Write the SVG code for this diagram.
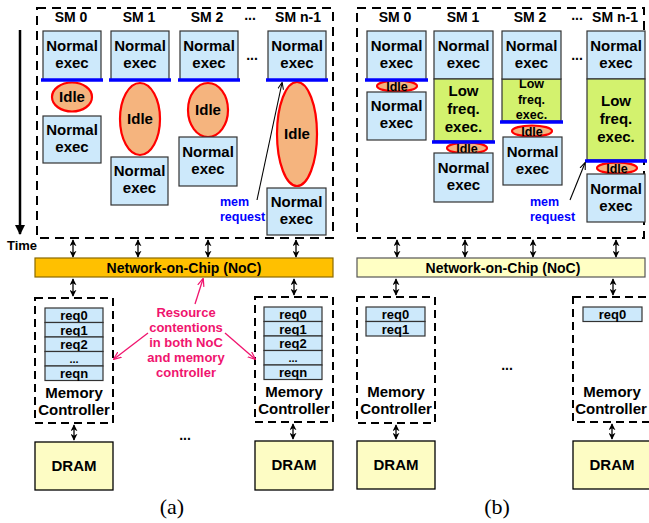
<svg xmlns="http://www.w3.org/2000/svg" width="649" height="523" viewBox="0 0 649 523">
<defs>
<style>
text{font-family:"Liberation Sans",Arial,sans-serif;font-weight:bold;text-anchor:middle;fill:#000}
.t15{font-size:15px}.t14{font-size:14px}.t13{font-size:13px}.t12{font-size:12.5px}.t11{font-size:11px}
.ne{fill:#cde9fb;stroke:#333;stroke-width:1.2}
.lf{fill:#d3f26e;stroke:#333;stroke-width:1.2}
.idle{fill:#f5b47e;stroke:#ff0000;stroke-width:2.2}
.bl{stroke:#0000ff;stroke-width:3.5}
.dash{fill:none;stroke:#000;stroke-width:2;stroke-dasharray:9 6}
.dashm{fill:none;stroke:#000;stroke-width:2;stroke-dasharray:8 5}
.req{fill:#cde9fb;stroke:#333;stroke-width:1.2}
.dram{fill:#fdfcc4;stroke:#000;stroke-width:1.3}
.da{stroke:#000;stroke-width:1.3;marker-start:url(#ah);marker-end:url(#ah)}
.blue{fill:#0000ff;font-size:12.5px;text-anchor:start}
.pink{fill:#f0146e;font-size:13px}
.pl{stroke:#f0146e;stroke-width:1.3;fill:none;marker-end:url(#ap)}
.cap{font-family:"Liberation Serif","Times New Roman",serif;font-weight:normal;font-size:22px}
</style>
<marker id="ah" viewBox="0 0 10 10" refX="9" refY="5" markerWidth="7" markerHeight="7" orient="auto-start-reverse" markerUnits="userSpaceOnUse"><path d="M0,0 L10,5 L0,10 L3,5 z" fill="#000"/></marker>
<marker id="at" viewBox="0 0 10 10" refX="9" refY="5" markerWidth="10" markerHeight="10" orient="auto" markerUnits="userSpaceOnUse"><path d="M0,0 L10,5 L0,10 z" fill="#000"/></marker>
<marker id="am" viewBox="0 0 10 10" refX="9" refY="5" markerWidth="7" markerHeight="7" orient="auto" markerUnits="userSpaceOnUse"><path d="M0,1 L10,5 L0,9" fill="none" stroke="#000" stroke-width="1.5"/></marker>
<marker id="ap" viewBox="0 0 10 10" refX="9" refY="5" markerWidth="8" markerHeight="8" orient="auto" markerUnits="userSpaceOnUse"><path d="M0,1 L10,5 L0,9" fill="none" stroke="#f0146e" stroke-width="1.5"/></marker>
</defs>
<rect width="649" height="523" fill="#fff"/>

<!-- ===== Panel (a) ===== -->
<g id="a-frame">
<rect class="dash" x="37" y="8" width="296" height="230"/>
<line x1="20" y1="30" x2="20" y2="234" stroke="#000" stroke-width="2.5" marker-end="url(#at)"/>
<text class="t13" x="22" y="250">Time</text>
<text class="t14" x="71" y="22">SM 0</text>
<text class="t14" x="139" y="22">SM 1</text>
<text class="t14" x="207" y="22">SM 2</text>
<text class="t14" x="250" y="20">...</text>
<text class="t14" x="298" y="22">SM n-1</text>
<text class="t14" x="252" y="60">...</text>
</g>
<g id="a-sm0">
<rect class="ne" x="43" y="31" width="58" height="49"/>
<text class="t15" x="72" y="51">Normal</text><text class="t15" x="72" y="68">exec</text>
<ellipse class="idle" cx="72" cy="97" rx="20" ry="14.5"/><text class="t15" x="72" y="102">Idle</text>
<rect class="ne" x="43" y="116" width="58" height="47"/>
<text class="t15" x="72" y="135">Normal</text><text class="t15" x="72" y="152">exec</text>
<line class="bl" x1="41" y1="80" x2="103" y2="80"/>
</g>
<g id="a-sm1">
<rect class="ne" x="111" y="31" width="58" height="49"/>
<text class="t15" x="140" y="51">Normal</text><text class="t15" x="140" y="68">exec</text>
<ellipse class="idle" cx="140" cy="119" rx="20" ry="36"/><text class="t15" x="140" y="124">Idle</text>
<rect class="ne" x="111" y="157" width="57" height="48"/>
<text class="t15" x="139.5" y="176">Normal</text><text class="t15" x="139.5" y="193">exec</text>
<line class="bl" x1="109" y1="80" x2="171" y2="80"/>
</g>
<g id="a-sm2">
<rect class="ne" x="180" y="31" width="58" height="49"/>
<text class="t15" x="209" y="51">Normal</text><text class="t15" x="209" y="68">exec</text>
<ellipse class="idle" cx="208" cy="110" rx="20" ry="27"/><text class="t15" x="208" y="115">Idle</text>
<rect class="ne" x="179" y="137" width="58" height="49"/>
<text class="t15" x="208" y="157">Normal</text><text class="t15" x="208" y="174">exec</text>
<line class="bl" x1="178" y1="80" x2="240" y2="80"/>
</g>
<g id="a-smn">
<rect class="ne" x="268" y="31" width="58" height="49"/>
<text class="t15" x="297" y="51">Normal</text><text class="t15" x="297" y="68">exec</text>
<ellipse class="idle" cx="297" cy="134" rx="20" ry="52"/><text class="t15" x="297" y="139">Idle</text>
<rect class="ne" x="267" y="188" width="59" height="47"/>
<text class="t15" x="296.5" y="207">Normal</text><text class="t15" x="296.5" y="224">exec</text>
<line class="bl" x1="266" y1="80" x2="328" y2="80"/>
<text class="blue" x="220" y="206">mem</text><text class="blue" x="220" y="221">request</text>
</g>
<g id="a-noc">
<rect x="35" y="258" width="298" height="19" fill="#ffc000" stroke="#8a6a00" stroke-width="1.2"/>
<text class="t14" x="184" y="273">Network-on-Chip (NoC)</text>
</g>
<g id="a-mc0">
<rect class="dashm" x="35" y="298" width="78" height="125"/>
<rect class="req" x="45" y="308" width="58" height="14.5"/><text class="t13" x="74" y="320">req0</text>
<rect class="req" x="45" y="322.5" width="58" height="14.5"/><text class="t13" x="74" y="334.5">req1</text>
<rect class="req" x="45" y="337" width="58" height="14.5"/><text class="t13" x="74" y="349">req2</text>
<rect class="req" x="45" y="351.5" width="58" height="14.5"/><text class="t11" x="74" y="363">...</text>
<rect class="req" x="45" y="366" width="58" height="14.5"/><text class="t13" x="74" y="378">reqn</text>
<text class="t15" x="74" y="398">Memory</text><text class="t15" x="74" y="415">Controller</text>
</g>
<g id="a-mc1">
<rect class="dashm" x="255" y="297" width="78" height="125"/>
<rect class="req" x="264" y="307" width="58" height="14.5"/><text class="t13" x="293" y="319">req0</text>
<rect class="req" x="264" y="321.5" width="58" height="14.5"/><text class="t13" x="293" y="333.5">req1</text>
<rect class="req" x="264" y="336" width="58" height="14.5"/><text class="t13" x="293" y="348">req2</text>
<rect class="req" x="264" y="350.5" width="58" height="14.5"/><text class="t11" x="293" y="362">...</text>
<rect class="req" x="264" y="365" width="58" height="14.5"/><text class="t13" x="293" y="377">reqn</text>
<text class="t15" x="294" y="397">Memory</text><text class="t15" x="294" y="414">Controller</text>
</g>
<g id="a-dram0">
<rect class="dram" x="35" y="442" width="78" height="48"/><text class="t15" x="74" y="471">DRAM</text>
</g>
<g id="a-dram1">
<rect class="dram" x="255" y="441" width="78" height="49"/><text class="t15" x="294" y="470">DRAM</text>
</g>
<g id="a-notes">
<text class="t14" x="185" y="440">...</text>
<text class="pink" x="186" y="317">Resource</text>
<text class="pink" x="186" y="332">contentions</text>
<text class="pink" x="186" y="347">in both NoC</text>
<text class="pink" x="186" y="362">and memory</text>
<text class="pink" x="186" y="377">controller</text>
<text class="cap" x="172" y="514">(a)</text>
</g>

<!-- ===== Panel (b) ===== -->
<g id="b-frame">
<rect class="dash" x="357" y="8" width="287" height="230"/>
<text class="t14" x="395" y="22">SM 0</text>
<text class="t14" x="463" y="22">SM 1</text>
<text class="t14" x="530" y="22">SM 2</text>
<text class="t14" x="577" y="20">...</text>
<text class="t14" x="615" y="22">SM n-1</text>
<text class="t14" x="577" y="60">...</text>
</g>
<g id="b-sm0">
<rect class="ne" x="367" y="31" width="59" height="49"/>
<text class="t15" x="396.5" y="51">Normal</text><text class="t15" x="396.5" y="68">exec</text>
<ellipse class="idle" cx="397" cy="86" rx="20" ry="5.5"/><text class="t12" x="397" y="91">Idle</text>
<rect class="ne" x="367" y="92" width="59" height="48"/>
<text class="t15" x="396.5" y="111">Normal</text><text class="t15" x="396.5" y="128">exec</text>
<line class="bl" x1="365" y1="80" x2="428" y2="80"/>
</g>
<g id="b-sm1">
<rect class="ne" x="434" y="31" width="59" height="48"/>
<text class="t15" x="463.5" y="51">Normal</text><text class="t15" x="463.5" y="68">exec</text>
<rect class="lf" x="434" y="79" width="59" height="62"/>
<text class="t15" x="463.5" y="96">Low</text><text class="t15" x="463.5" y="114">freq.</text><text class="t15" x="463.5" y="132">exec.</text>
<ellipse class="idle" cx="467" cy="148" rx="20" ry="5.5"/><text class="t12" x="467" y="153">Idle</text>
<rect class="ne" x="434" y="153" width="59" height="49"/>
<text class="t15" x="463.5" y="173">Normal</text><text class="t15" x="463.5" y="190">exec</text>
<line class="bl" x1="432" y1="142" x2="495" y2="142"/>
</g>
<g id="b-sm2">
<rect class="lf" x="502" y="79" width="59" height="42"/>
<text class="t12" x="531.5" y="88">Low</text><text class="t12" x="531.5" y="104">freq.</text><text class="t12" x="531.5" y="119">exec.</text>
<rect class="ne" x="502" y="31" width="59" height="48"/>
<text class="t15" x="531.5" y="51">Normal</text><text class="t15" x="531.5" y="68">exec</text>
<ellipse class="idle" cx="532" cy="131" rx="20" ry="5.5"/><text class="t12" x="532" y="136">Idle</text>
<rect class="ne" x="503" y="137" width="59" height="48"/>
<text class="t15" x="532.5" y="157">Normal</text><text class="t15" x="532.5" y="174">exec</text>
<line class="bl" x1="500" y1="122" x2="563" y2="122"/>
</g>
<g id="b-smn">
<rect class="ne" x="587" y="31" width="58" height="48"/>
<text class="t15" x="616" y="51">Normal</text><text class="t15" x="616" y="68">exec</text>
<rect class="lf" x="587" y="79" width="58" height="81"/>
<text class="t15" x="616" y="106">Low</text><text class="t15" x="616" y="124">freq.</text><text class="t15" x="616" y="142">exec.</text>
<ellipse class="idle" cx="617" cy="168" rx="20" ry="5.5"/><text class="t12" x="617" y="173">Idle</text>
<rect class="ne" x="587" y="174" width="58" height="48"/>
<text class="t15" x="616" y="194">Normal</text><text class="t15" x="616" y="211">exec</text>
<line class="bl" x1="585" y1="161" x2="647" y2="161"/>
<text class="blue" x="530" y="206">mem</text><text class="blue" x="530" y="221">request</text>
</g>
<g id="b-noc">
<rect x="357" y="258" width="288" height="19" fill="#ffffc4" stroke="#555" stroke-width="1.2"/>
<text class="t14" x="503" y="273">Network-on-Chip (NoC)</text>
</g>
<g id="b-mc0">
<rect class="dashm" x="357" y="297" width="78" height="126"/>
<rect class="req" x="366" y="307" width="59" height="14.5"/><text class="t13" x="395.5" y="319">req0</text>
<rect class="req" x="366" y="321.5" width="59" height="14.5"/><text class="t13" x="395.5" y="333.5">req1</text>
<text class="t15" x="396" y="397">Memory</text><text class="t15" x="396" y="414">Controller</text>
</g>
<g id="b-mc1">
<rect class="dashm" x="573" y="297" width="80" height="125"/>
<rect class="req" x="583" y="307" width="59" height="14.5"/><text class="t13" x="612.5" y="319">req0</text>
<text class="t15" x="612" y="397">Memory</text><text class="t15" x="611" y="414">Controller</text>
</g>
<g id="b-dram0">
<rect class="dram" x="357" y="441" width="78" height="48"/><text class="t15" x="396" y="470">DRAM</text>
</g>
<g id="b-dram1">
<rect class="dram" x="573" y="441" width="80" height="48"/><text class="t15" x="612" y="470">DRAM</text>
</g>
<g id="b-notes">
<text class="t14" x="507" y="370">...</text>
<text class="cap" x="497" y="514">(b)</text>
</g>

<!-- ===== Connectors ===== -->
<g id="connectors">
<line class="da" x1="73" y1="240" x2="73" y2="257"/>
<line class="da" x1="138" y1="240" x2="138" y2="257"/>
<line class="da" x1="208" y1="240" x2="208" y2="257"/>
<line class="da" x1="296" y1="240" x2="296" y2="257"/>
<line class="da" x1="73" y1="279" x2="73" y2="296"/>
<line class="da" x1="294" y1="279" x2="294" y2="295"/>
<line class="da" x1="74" y1="425" x2="74" y2="440"/>
<line class="da" x1="293" y1="424" x2="293" y2="439"/>
<line class="da" x1="397" y1="240" x2="397" y2="257"/>
<line class="da" x1="465" y1="240" x2="465" y2="257"/>
<line class="da" x1="533" y1="240" x2="533" y2="257"/>
<line class="da" x1="616" y1="240" x2="616" y2="257"/>
<line class="da" x1="396" y1="279" x2="396" y2="295"/>
<line class="da" x1="613" y1="279" x2="613" y2="295"/>
<line class="da" x1="396" y1="425" x2="396" y2="439"/>
<line class="da" x1="612" y1="424" x2="612" y2="439"/>
<line x1="257" y1="200" x2="282" y2="83" stroke="#000" stroke-width="1.1" marker-end="url(#am)"/>
<line x1="570" y1="200" x2="585" y2="163" stroke="#000" stroke-width="1.1" marker-end="url(#am)"/>
<line class="pl" x1="195" y1="304" x2="203" y2="279"/>
<line class="pl" x1="148" y1="333" x2="114" y2="359"/>
<line class="pl" x1="225" y1="333" x2="255" y2="359"/>
</g>
</svg>
